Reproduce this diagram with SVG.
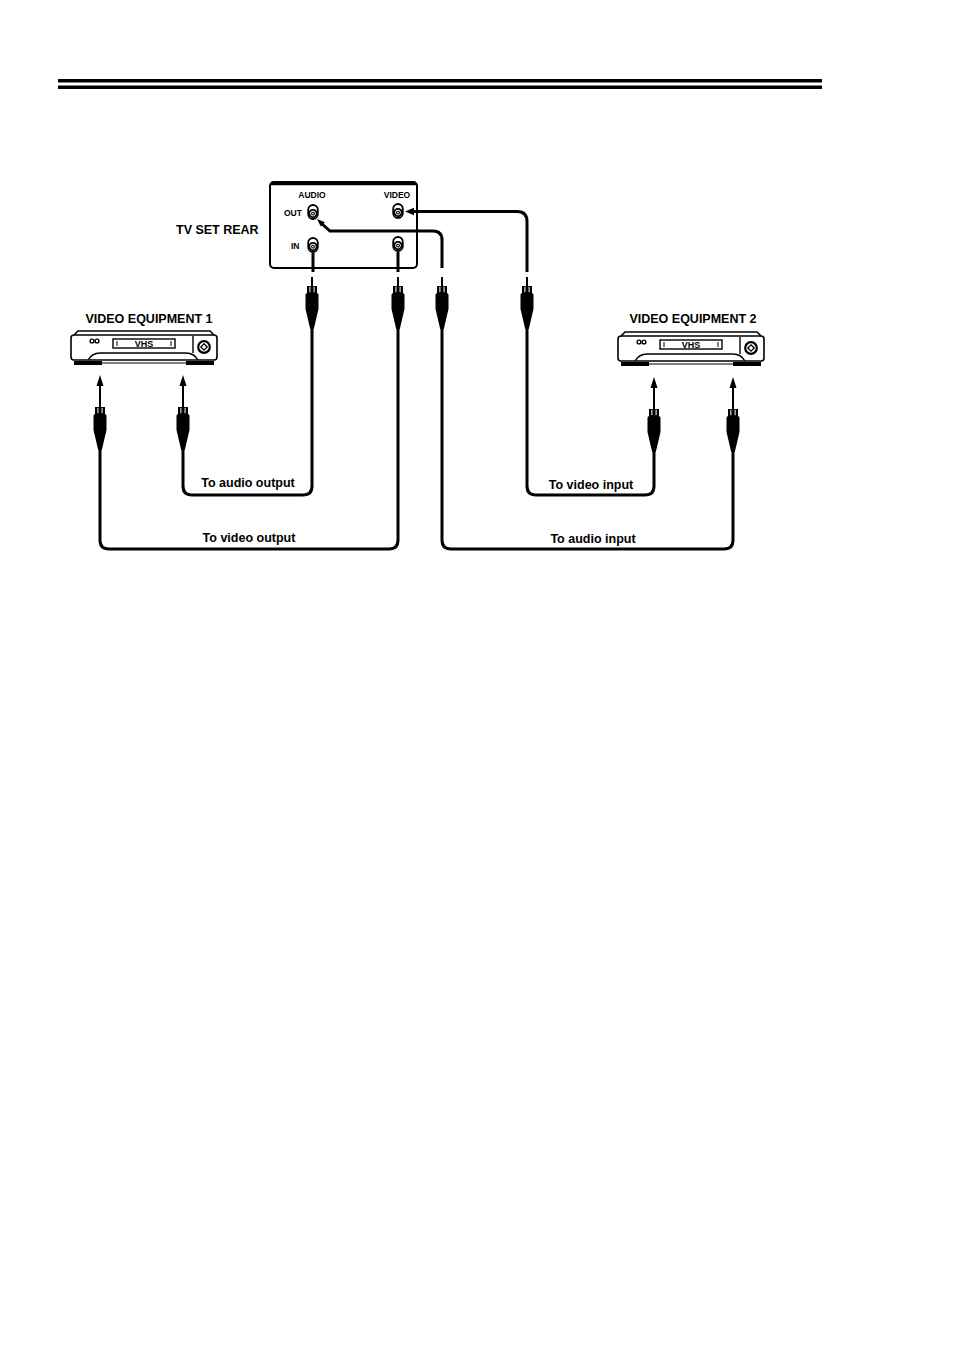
<svg xmlns="http://www.w3.org/2000/svg" xmlns:xlink="http://www.w3.org/1999/xlink" width="954" height="1349" viewBox="0 0 954 1349">
<style>
.lbl{font-family:"Liberation Sans",Arial,sans-serif;font-weight:bold;fill:#000}
.t12{font-size:12.5px}
.t8{font-size:8.5px}
.cable{fill:none;stroke:#000;stroke-width:3}
.thin{fill:none;stroke:#000;stroke-width:1.4}
</style>
<defs>
<g id="plug">
<rect x="-1" y="-9" width="2" height="9" fill="#000"/>
<rect x="-5" y="0" width="10" height="7" fill="#000"/>
<rect x="-2.6" y="0.8" width="1" height="5.4" fill="#fff"/>
<rect x="1.6" y="0.8" width="1" height="5.4" fill="#fff"/>
<path d="M-6.5,9 Q-6.5,7 -4.5,7 L4.5,7 Q6.5,7 6.5,9 L6.5,23 L1.8,43 L-1.8,43 L-6.5,23 Z" fill="#000"/>
</g>
<g id="jack">
<rect x="-4.8" y="-7" width="9.6" height="14" rx="4.8" fill="#fff" stroke="#000" stroke-width="1.8"/>
<circle cx="0" cy="1.6" r="3.7" fill="#fff" stroke="#000" stroke-width="1.8"/>
<circle cx="0" cy="1.6" r="1.4" fill="#fff" stroke="#000" stroke-width="1.1"/>
</g>
<g id="vcr">
<path d="M1,7 Q1,4 4,4 L8,0 L140,0 L144,4 Q147,4 147,7 L147,26 Q147,29 144,29 L4,29 Q1,29 1,26 Z" fill="#fff" stroke="#000" stroke-width="1.6"/>
<path d="M4,4 L144,4" class="thin"/>
<path d="M18,29 Q22,22 30,22 L116,22 Q124,22 128,29" class="thin"/>
<path d="M123,5 L123,22" class="thin"/>
<rect x="4" y="30" width="28" height="4" fill="#000"/>
<rect x="116" y="30" width="28" height="4" fill="#000"/>
<path d="M30,32 L116,32" stroke="#000" stroke-width="1.2"/>
<circle cx="22" cy="10" r="1.9" fill="#fff" stroke="#000" stroke-width="1.4"/>
<circle cx="27" cy="10" r="1.9" fill="#fff" stroke="#000" stroke-width="1.4"/>
<rect x="43" y="8" width="62" height="9" fill="#fff" stroke="#000" stroke-width="1.4"/>
<path d="M47,10 L47,15 M101,10 L101,15" stroke="#000" stroke-width="1"/>
<text x="74" y="15.8" text-anchor="middle" class="lbl" style="font-size:9px">VHS</text>
<circle cx="134" cy="16" r="5.8" fill="#fff" stroke="#000" stroke-width="2.2"/>
<path d="M134,12.8 L137.2,16 L134,19.2 L130.8,16 Z" fill="#fff" stroke="#000" stroke-width="1.3"/>
</g>
<g id="arrowUp">
<path d="M0,0 L-3.5,11 L3.5,11 Z" fill="#000"/>
<rect x="-1" y="10" width="2" height="13" fill="#000"/>
</g>
</defs>

<g id="header">
<rect x="58" y="79" width="764" height="3.5" fill="#000"/>
<rect x="58" y="85.5" width="764" height="3.5" fill="#000"/>
</g>

<g id="tv-set-rear">
<rect x="270" y="182" width="147" height="86" rx="4" fill="#fff" stroke="#000" stroke-width="2"/>
<path d="M271,183.5 L416,183.5" stroke="#000" stroke-width="3.5"/>
<text x="312" y="198" text-anchor="middle" class="lbl t8">AUDIO</text>
<text x="397" y="198" text-anchor="middle" class="lbl t8">VIDEO</text>
<text x="284" y="216" class="lbl t8">OUT</text>
<text x="291" y="249" class="lbl t8">IN</text>
<use xlink:href="#jack" x="313" y="212"/>
<use xlink:href="#jack" x="398" y="211"/>
<use xlink:href="#jack" x="313" y="245"/>
<use xlink:href="#jack" x="398" y="244"/>
</g>
<text x="176" y="234" class="lbl t12">TV SET REAR</text>

<g id="video-equipment-1">
<text x="149" y="323" text-anchor="middle" class="lbl t12">VIDEO EQUIPMENT 1</text>
<use xlink:href="#vcr" x="70" y="331"/>
</g>

<g id="video-equipment-2">
<text x="693" y="323" text-anchor="middle" class="lbl t12">VIDEO EQUIPMENT 2</text>
<use xlink:href="#vcr" x="617" y="332"/>
</g>

<g id="connectors">
<path d="M313,253 L313,272" class="cable"/>
<path d="M398,252 L398,272" class="cable"/>
<path d="M414,211.5 L517,211.5 Q527,211.5 527,221.5 L527,272" class="cable"/>
<path d="M405,211.5 L414,207.8 L414,215.2 Z" fill="#000"/>
<path d="M321,223 L330,231 L433,231 Q442,231 442,240 L442,268" class="cable"/>
<path d="M317,219 L320.8,226.6 L324.9,222.2 Z" fill="#000"/>
<use xlink:href="#plug" x="312" y="286"/>
<use xlink:href="#plug" x="398" y="286"/>
<use xlink:href="#plug" x="442" y="286"/>
<use xlink:href="#plug" x="527" y="286"/>
<use xlink:href="#arrowUp" x="100" y="375"/>
<use xlink:href="#arrowUp" x="183" y="375"/>
<use xlink:href="#plug" x="100" y="407"/>
<use xlink:href="#plug" x="183" y="407"/>
<use xlink:href="#arrowUp" x="654" y="377"/>
<use xlink:href="#arrowUp" x="733" y="377"/>
<use xlink:href="#plug" x="654" y="409"/>
<use xlink:href="#plug" x="733" y="409"/>
<path d="M312,328 L312,486 Q312,495 303,495 L192,495 Q183,495 183,486 L183,449" class="cable"/>
<path d="M398,328 L398,540 Q398,549 389,549 L109,549 Q100,549 100,540 L100,449" class="cable"/>
<path d="M442,328 L442,540 Q442,549 451,549 L724,549 Q733,549 733,540 L733,451" class="cable"/>
<path d="M527,328 L527,486 Q527,495 536,495 L645,495 Q654,495 654,486 L654,451" class="cable"/>
<text x="248" y="487" text-anchor="middle" class="lbl t12">To audio output</text>
<text x="249" y="542" text-anchor="middle" class="lbl t12">To video output</text>
<text x="591" y="489" text-anchor="middle" class="lbl t12">To video input</text>
<text x="593" y="543" text-anchor="middle" class="lbl t12">To audio input</text>
</g>
</svg>
